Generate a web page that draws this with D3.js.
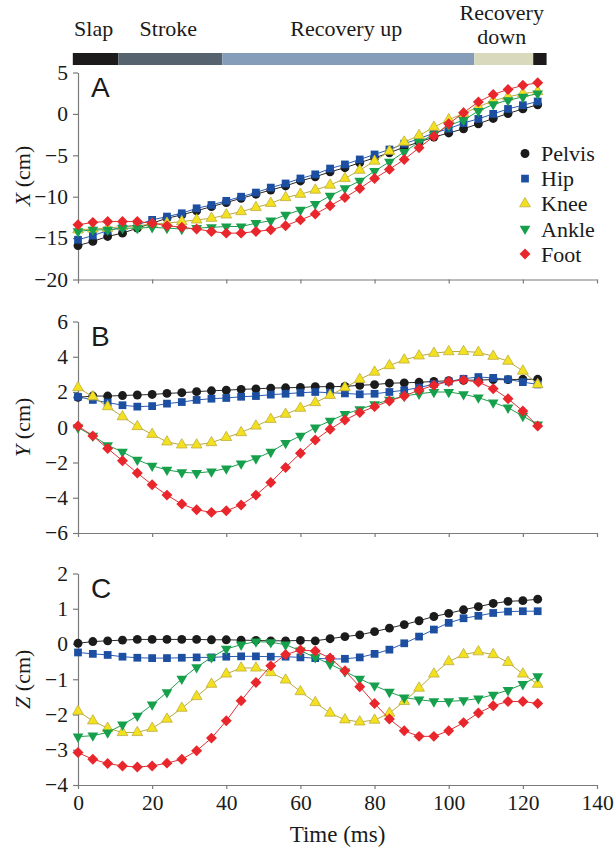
<!DOCTYPE html>
<html>
<head>
<meta charset="utf-8">
<script src="https://cdn.jsdelivr.net/npm/d3@7"></script>
<style>
  body { margin: 0; background: #fff; }
  svg { display: block; }
  svg text { font-family: "Liberation Serif", "Times New Roman", Times, serif; }
  svg text.letter { font-family: "Liberation Sans", Arial, Helvetica, sans-serif; }
</style>
</head>
<body>
<svg id="chart" width="614" height="851"></svg>
<script>
// time samples (ms)
const time = [0, 4, 8, 12, 16, 20, 24, 28, 32, 36, 40, 44, 48, 52, 56, 60,
              64, 68, 72, 76, 80, 84, 88, 92, 96, 100, 104, 108, 112, 116, 120, 124];

const joints = ["Pelvis", "Hip", "Knee", "Ankle", "Foot"];

// phase bar
const phaseNames  = ["Slap", "Stroke", "Recovery up", "Recovery down", ""];
const phaseStarts = [-1.4, 10.9, 38.9, 106.9, 122.8];
const phaseEnds   = [10.9, 38.9, 106.9, 122.8, 126.4];

// Panel A: X (cm)
const pelvisX = [-15.9,-15.4,-14.8,-14.4,-13.8,-13.2,-12.6,-12.2,-11.7,-11.2,-10.7,-10.2,-9.7,-9.2,-8.7,-8.1,
                 -7.6,-7.0,-6.5,-5.9,-5.3,-4.7,-4.0,-3.4,-2.8,-2.3,-1.8,-1.2,-0.55,0.05,0.6,1.1];
const hipX    = [-15.2,-14.7,-14.1,-13.7,-13.4,-12.8,-12.4,-12.0,-11.4,-11.0,-10.5,-10.0,-9.5,-8.9,-8.4,-7.8,
                 -7.3,-6.6,-6.1,-5.5,-4.9,-4.3,-3.6,-3.0,-2.3,-1.8,-1.1,-0.6,0.0,0.6,1.05,1.5];
const kneeX   = [-14.0,-13.9,-13.8,-13.6,-13.5,-13.3,-13.2,-13.0,-12.8,-12.6,-12.2,-11.8,-11.3,-10.8,-10.1,-9.7,
                 -9.2,-8.6,-7.8,-6.8,-5.7,-4.5,-3.4,-2.6,-1.6,-0.7,0.05,0.85,1.6,2.05,2.45,2.7];
const ankleX  = [-14.2,-14.0,-14.0,-13.8,-13.8,-13.7,-13.8,-13.9,-13.8,-13.7,-13.6,-13.6,-13.2,-12.9,-12.2,-11.6,
                 -10.9,-9.9,-9.0,-8.1,-6.9,-5.8,-4.6,-3.4,-2.5,-1.4,-0.75,0.35,1.15,1.65,2.05,2.45];
const footX   = [-13.4,-13.1,-13.0,-13.0,-13.0,-13.2,-13.5,-13.7,-13.9,-14.2,-14.4,-14.4,-14.2,-14.0,-13.5,-12.8,
                 -12.1,-11.1,-10.1,-9.0,-7.8,-6.7,-5.5,-4.1,-2.7,-1.2,0.15,1.45,2.35,2.95,3.45,3.75];

// Panel B: Y (cm)
const pelvisY = [1.7,1.77,1.77,1.8,1.83,1.86,1.92,1.96,2.02,2.07,2.1,2.15,2.18,2.22,2.24,2.26,
                 2.3,2.3,2.32,2.38,2.42,2.5,2.52,2.55,2.6,2.64,2.66,2.68,2.7,2.7,2.72,2.72];
const hipY    = [1.73,1.55,1.4,1.25,1.17,1.2,1.34,1.43,1.55,1.62,1.66,1.73,1.77,1.85,1.9,1.96,
                 2.0,1.96,1.92,1.87,1.9,2.0,2.1,2.25,2.45,2.6,2.75,2.85,2.8,2.72,2.56,2.43];
const kneeY   = [2.25,1.73,1.17,0.6,0.04,-0.4,-0.83,-1.0,-1.0,-0.87,-0.58,-0.3,0.07,0.45,0.74,1.08,
                 1.4,1.81,2.25,2.72,3.13,3.5,3.82,4.05,4.2,4.29,4.3,4.25,4.03,3.75,3.19,2.43];
const ankleY  = [-0.02,-0.49,-1.02,-1.4,-1.85,-2.19,-2.42,-2.56,-2.6,-2.51,-2.34,-2.06,-1.77,-1.4,-0.9,-0.49,
                 -0.02,0.36,0.74,1.02,1.3,1.55,1.77,1.9,2.0,2.0,1.87,1.68,1.4,1.11,0.64,0.15];
const footY   = [0.07,-0.49,-1.21,-1.9,-2.6,-3.26,-3.85,-4.36,-4.68,-4.83,-4.74,-4.41,-3.85,-3.13,-2.28,-1.47,
                 -0.72,-0.11,0.41,0.83,1.17,1.49,1.77,2.11,2.38,2.59,2.68,2.56,2.19,1.62,0.92,0.07];

// Panel C: Z (cm)
const pelvisZ = [0.02,0.07,0.09,0.11,0.13,0.13,0.13,0.13,0.13,0.12,0.12,0.11,0.1,0.09,0.09,0.1,
                 0.09,0.15,0.21,0.26,0.35,0.45,0.55,0.66,0.78,0.87,0.97,1.06,1.15,1.21,1.23,1.27];
const hipZ    = [-0.24,-0.28,-0.31,-0.36,-0.39,-0.4,-0.4,-0.39,-0.38,-0.38,-0.36,-0.35,-0.35,-0.36,-0.36,-0.38,
                 -0.4,-0.43,-0.42,-0.38,-0.28,-0.16,0.02,0.21,0.41,0.6,0.73,0.8,0.88,0.92,0.93,0.93];
const kneeZ   = [-1.91,-2.18,-2.39,-2.51,-2.51,-2.39,-2.13,-1.82,-1.49,-1.14,-0.85,-0.68,-0.68,-0.81,-1.02,-1.35,
                 -1.66,-1.96,-2.15,-2.21,-2.16,-1.96,-1.63,-1.25,-0.85,-0.5,-0.3,-0.22,-0.3,-0.52,-0.85,-1.14];
const ankleZ  = [-2.63,-2.6,-2.51,-2.29,-2.04,-1.72,-1.37,-0.99,-0.66,-0.38,-0.14,-0.02,0.07,0.05,-0.02,-0.19,
                 -0.38,-0.57,-0.78,-0.99,-1.18,-1.36,-1.52,-1.58,-1.63,-1.63,-1.6,-1.55,-1.44,-1.31,-1.14,-0.92];
const footZ   = [-3.08,-3.27,-3.39,-3.46,-3.49,-3.46,-3.38,-3.27,-3.03,-2.67,-2.18,-1.61,-1.09,-0.62,-0.3,-0.17,
                 -0.2,-0.4,-0.76,-1.21,-1.69,-2.13,-2.46,-2.62,-2.62,-2.46,-2.23,-1.96,-1.75,-1.63,-1.63,-1.69];

const xTicks = [0, 20, 40, 60, 80, 100, 120, 140];

const panels = [
  {letter: "A", axis: "X", domain: [-20, 5], ticks: [-20, -15, -10, -5, 0, 5], top: 72.5, bottom: 279.5,
   series: [pelvisX, hipX, kneeX, ankleX, footX]},
  {letter: "B", axis: "Y", domain: [-6, 6], ticks: [-6, -4, -2, 0, 2, 4, 6], top: 321.5, bottom: 533,
   series: [pelvisY, hipY, kneeY, ankleY, footY]},
  {letter: "C", axis: "Z", domain: [-4, 2], ticks: [-4, -3, -2, -1, 0, 1, 2], top: 573.5, bottom: 785,
   series: [pelvisZ, hipZ, kneeZ, ankleZ, footZ]}
];

const styles = {
  Pelvis: {fill: "#1b1b1b", line: "#2a2a2a", stroke: "none", type: d3.symbolCircle, size: 62, rot: 0},
  Hip:    {fill: "#1c4fa2", line: "#2a5cb3", stroke: "none", type: d3.symbolSquare, size: 60, rot: 0},
  Knee:   {fill: "#f3e01e", line: "#b9a93c", stroke: "#bfae40", type: d3.symbolTriangle, size: 50, rot: 0},
  Ankle:  {fill: "#17a04c", line: "#1f9e50", stroke: "none", type: d3.symbolTriangle, size: 50, rot: 180},
  Foot:   {fill: "#e8262b", line: "#e03032", stroke: "none", type: d3.symbolSquare, size: 60, rot: 45}
};

const svg = d3.select("#chart");
const axisColor = "#7a7a7a";
const ink = "#1a1a1a";
const fmt = d3.format("d");

const x = d3.scaleLinear().domain([0, 140]).range([78, 597]);

// phase bar
const phaseColors = ["#1c1a1b", "#56636f", "#859db8", "#d8d9bd", "#1c1a1b"];
svg.selectAll(".phase")
  .data(phaseStarts)
  .join("rect")
  .attr("class", "phase")
  .attr("x", d => x(d))
  .attr("y", 53)
  .attr("width", (d, i) => x(phaseEnds[i]) - x(d))
  .attr("height", 12)
  .attr("fill", (d, i) => phaseColors[i]);

phaseNames.forEach((name, i) => {
  if (!name) return;
  const cx = x((phaseStarts[i] + phaseEnds[i]) / 2) - 2;
  const txt = svg.append("text")
    .attr("x", cx)
    .attr("text-anchor", "middle")
    .style("font-size", "22px")
    .attr("fill", ink);
  if (name === "Recovery down") {
    txt.attr("y", 20);
    name.split(" ").forEach((l, j) => {
      txt.append("tspan").attr("x", cx).attr("dy", j === 0 ? 0 : 24).text(l);
    });
  } else {
    txt.attr("y", 36).text(name);
  }
});

panels.forEach(p => {
  const y = d3.scaleLinear().domain(p.domain).range([p.bottom, p.top]);
  const g = svg.append("g");

  // axes
  const yAxis = g.append("g")
    .attr("transform", `translate(${x(0)},0)`)
    .call(d3.axisLeft(y).tickValues(p.ticks).tickFormat(fmt).tickSize(5).tickSizeOuter(0).tickPadding(5));
  const xAxis = g.append("g")
    .attr("transform", `translate(0,${p.bottom})`)
    .call(d3.axisBottom(x).tickValues(xTicks).tickSize(4).tickSizeOuter(0).tickPadding(6)
      .tickFormat(p.letter === "C" ? fmt : () => ""));
  [yAxis, xAxis].forEach(a => {
    a.attr("font-family", null).attr("font-size", null);
    a.select(".domain").attr("stroke", axisColor).attr("stroke-width", 1.2);
    a.selectAll(".tick line").attr("stroke", axisColor).attr("stroke-width", 1.2);
    a.selectAll("text").style("font-size", "21.5px").attr("fill", ink);
  });

  // axis title
  const title = g.append("text")
    .attr("transform", `translate(22,${(p.top + p.bottom) / 2}) rotate(-90)`)
    .attr("text-anchor", "middle")
    .attr("dy", "0.35em")
    .style("font-size", "22px")
    .attr("fill", ink);
  title.append("tspan").attr("font-style", "italic").text(p.axis);
  title.append("tspan").text(" (cm)");

  // panel letter
  g.append("text")
    .attr("class", "letter")
    .attr("x", 91)
    .attr("y", p.top + 24.5)
    .style("font-size", "28px")
    .attr("fill", ink)
    .text(p.letter);

  // series
  const line = d3.line().x((d, i) => x(time[i])).y(d => y(d));
  p.series.forEach((vals, k) => {
    const s = styles[joints[k]];
    g.append("path")
      .datum(vals)
      .attr("d", line)
      .attr("fill", "none")
      .attr("stroke", s.line)
      .attr("stroke-width", 1);
    g.selectAll(null)
      .data(vals)
      .join("path")
      .attr("d", d3.symbol().type(s.type).size(s.size))
      .attr("transform", (d, i) => `translate(${x(time[i])},${y(d)}) rotate(${s.rot})`)
      .attr("fill", s.fill)
      .attr("stroke", s.stroke)
      .attr("stroke-width", 0.8);
  });
});

// legend
joints.forEach((name, i) => {
  const s = styles[name];
  const ly = 153.5 + i * 25.1;
  svg.append("path")
    .attr("d", d3.symbol().type(s.type).size(s.size))
    .attr("transform", `translate(525,${ly}) rotate(${s.rot})`)
    .attr("fill", s.fill)
    .attr("stroke", s.stroke)
    .attr("stroke-width", 0.8);
  svg.append("text")
    .attr("x", 541)
    .attr("y", ly)
    .attr("dy", "0.35em")
    .style("font-size", "22px")
    .attr("fill", ink)
    .text(name);
});

// x title
svg.append("text")
  .attr("x", (x(0) + x(140)) / 2)
  .attr("y", 842)
  .attr("text-anchor", "middle")
  .style("font-size", "23px")
  .attr("fill", ink)
  .text("Time (ms)");
</script>
</body>
</html>
